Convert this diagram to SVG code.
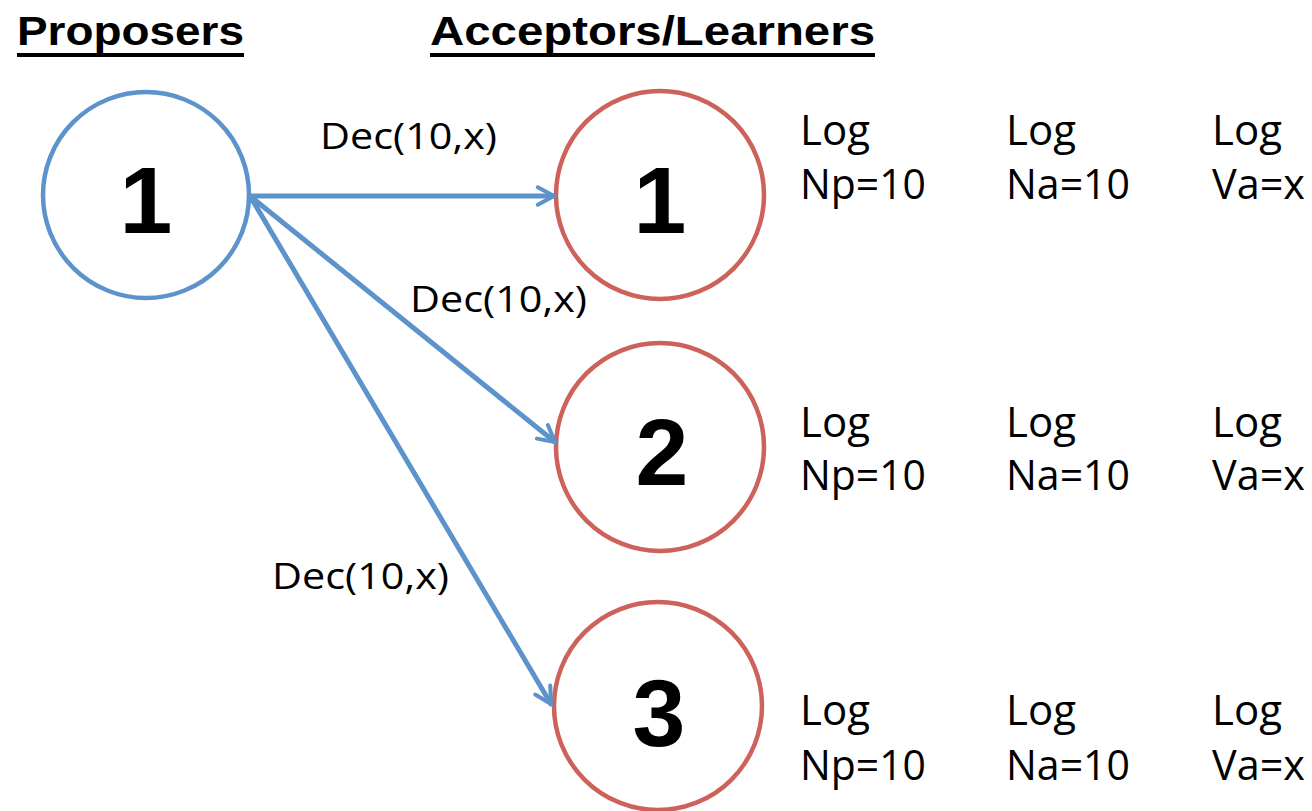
<svg xmlns="http://www.w3.org/2000/svg" width="1312" height="811" viewBox="0 0 1312 811">
<defs>
<marker id="ah" viewBox="0 0 20 20" refX="17" refY="10" markerWidth="5" markerHeight="5" orient="auto" markerUnits="strokeWidth">
<path d="M4,3 L17,10 L4,17" fill="none" stroke="#5B93CA" stroke-width="3.2" stroke-linecap="round" stroke-linejoin="round"/>
</marker>
</defs>
<style>
.hdr{font-family:"Liberation Sans",Arial,sans-serif;font-weight:bold;font-size:40px;fill:#000}
.num{font-family:"Liberation Sans",Arial,sans-serif;font-weight:bold;font-size:95px;fill:#000;text-anchor:middle}
.lbl{font-family:"Open Sans","Liberation Sans",sans-serif;font-size:36px;fill:#000}
.log{font-family:"Open Sans","Liberation Sans",sans-serif;font-size:42px;fill:#000}
.prop{fill:#fff;stroke:#5B93CA;stroke-width:4.5}
.acc{fill:#fff;stroke:#CD625B;stroke-width:4.5}
.conn{stroke:#5B93CA;stroke-width:5;fill:none;stroke-linecap:round;marker-end:url(#ah)}
</style>
<rect width="1312" height="811" fill="#fff"/>
<g id="headers">
<text class="hdr" x="17" y="45" textLength="227" lengthAdjust="spacingAndGlyphs">Proposers</text>
<rect x="17" y="53" width="227" height="4" fill="#000"/>
<text class="hdr" x="430" y="45" textLength="445" lengthAdjust="spacingAndGlyphs">Acceptors/Learners</text>
<rect x="430" y="53" width="445" height="4" fill="#000"/>
</g>
<g id="proposer1">
<circle class="prop" cx="146" cy="195" r="103"/>
<text class="num" x="146" y="233">1</text>
</g>
<g id="acceptor1">
<circle class="acc" cx="660" cy="195" r="104"/>
<text class="num" x="660" y="233">1</text>
</g>
<g id="acceptor2">
<circle class="acc" cx="660" cy="447" r="104"/>
<text class="num" x="662" y="485">2</text>
</g>
<g id="acceptor3">
<circle class="acc" cx="658" cy="706" r="104"/>
<text class="num" x="659" y="746">3</text>
</g>
<g id="connectors">
<line class="conn" x1="250" y1="196" x2="554" y2="196"/>
<line class="conn" x1="250" y1="196" x2="555" y2="442"/>
<line class="conn" x1="250" y1="196" x2="551" y2="704"/>
<text class="lbl" x="320" y="149" textLength="177" lengthAdjust="spacingAndGlyphs">Dec(10,x)</text>
<text class="lbl" x="410" y="312" textLength="177" lengthAdjust="spacingAndGlyphs">Dec(10,x)</text>
<text class="lbl" x="272" y="589" textLength="177" lengthAdjust="spacingAndGlyphs">Dec(10,x)</text>
</g>
<g id="logs1">
<text class="log" x="800" y="145">Log</text><text class="log" x="800" y="199" textLength="126" lengthAdjust="spacingAndGlyphs">Np=10</text>
<text class="log" x="1006" y="145">Log</text><text class="log" x="1006" y="199" textLength="124" lengthAdjust="spacingAndGlyphs">Na=10</text>
<text class="log" x="1212" y="145">Log</text><text class="log" x="1212" y="199" textLength="93" lengthAdjust="spacingAndGlyphs">Va=x</text>
</g>
<g id="logs2">
<text class="log" x="800" y="437">Log</text><text class="log" x="800" y="490" textLength="126" lengthAdjust="spacingAndGlyphs">Np=10</text>
<text class="log" x="1006" y="437">Log</text><text class="log" x="1006" y="490" textLength="124" lengthAdjust="spacingAndGlyphs">Na=10</text>
<text class="log" x="1212" y="437">Log</text><text class="log" x="1212" y="490" textLength="93" lengthAdjust="spacingAndGlyphs">Va=x</text>
</g>
<g id="logs3">
<text class="log" x="800" y="725">Log</text><text class="log" x="800" y="780" textLength="126" lengthAdjust="spacingAndGlyphs">Np=10</text>
<text class="log" x="1006" y="725">Log</text><text class="log" x="1006" y="780" textLength="124" lengthAdjust="spacingAndGlyphs">Na=10</text>
<text class="log" x="1212" y="725">Log</text><text class="log" x="1212" y="780" textLength="93" lengthAdjust="spacingAndGlyphs">Va=x</text>
</g>
</svg>
